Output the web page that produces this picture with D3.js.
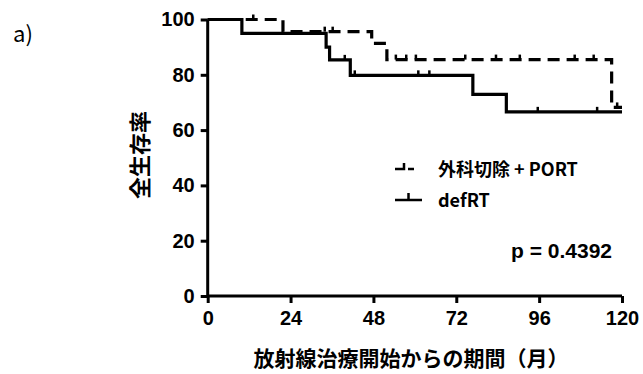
<!DOCTYPE html>
<html>
<head>
<meta charset="utf-8">
<script src="https://cdn.jsdelivr.net/npm/d3@7"></script>
<style>
  body { margin: 0; background: #fff; }
  svg { display: block; }
  .tick text { font-family: "Liberation Sans", Arial, sans-serif; font-weight: bold; font-size: 20px; }
</style>
</head>
<body>
<div id="container_km"></div>
<script>
// data
const xTicks = [0, 24, 48, 72, 96, 120];
const yTicks = [0, 20, 40, 60, 80, 100];

// 外科切除 + PORT (dashed)
const surgeryTimes = [0, 21.8, 47.5, 51.9, 117];
const surgerySurv = [100, 95.6, 91.4, 85.5, 68.2];
const surgeryEnd = 120;
const surgeryCensor = [13.2, 33.9, 36.2, 54.5, 57.5, 60.3, 74.6, 83.5, 90.4, 106.3, 111.8, 118.6];

// defRT (solid)
const defrtTimes = [0, 9.9, 34.3, 35.3, 41.3, 76.8, 86.5];
const defrtSurv = [100, 95, 90, 85.4, 79.8, 72.9, 66.6];
const defrtEnd = 120;
const defrtCensor = [39.7, 42.6, 61, 64.2, 95.6, 112.8];

const width = 643, height = 374;

const svg = d3.select('#container_km')
  .append('svg')
  .attr('id', 'svg_km')
  .attr('width', width)
  .attr('height', height);

const x = d3.scaleLinear().domain([0, 120]).range([207.7, 622]);
const y = d3.scaleLinear().domain([0, 100]).range([296, 19.5]);

// value at time t for a step curve
const survAt = (times, surv, t) => {
  let v = surv[0];
  times.forEach((tt, i) => { if (tt <= t) v = surv[i]; });
  return v;
};

const stepPoints = (times, surv, end) => {
  const pts = times.map((t, i) => [t, surv[i]]);
  pts.push([end, surv[surv.length - 1]]);
  return pts;
};

const line = d3.line()
  .x(d => x(d[0]))
  .y(d => y(d[1]))
  .curve(d3.curveStepAfter);

// axes
const xAxis = svg.append('g')
  .attr('transform', `translate(0,${y(0)})`)
  .call(d3.axisBottom(x).tickValues(xTicks).tickSize(7).tickPadding(8));

const yAxis = svg.append('g')
  .attr('transform', `translate(${x(0)},0)`)
  .call(d3.axisLeft(y).tickValues(yTicks).tickSize(7).tickPadding(6));

[xAxis, yAxis].forEach(g => {
  g.select('.domain').attr('stroke', '#000').attr('stroke-width', 3);
  g.selectAll('.tick line').attr('stroke', '#000').attr('stroke-width', 3);
  g.selectAll('.tick text').attr('fill', '#000');
});
xAxis.select('.domain').attr('d', `M${x(0)},0H${x(120)}`);
yAxis.select('.domain').attr('d', `M0,${y(0)}V${y(100)}`);

// curves
svg.append('path')
  .datum(stepPoints(defrtTimes, defrtSurv, defrtEnd))
  .attr('d', line)
  .attr('fill', 'none')
  .attr('stroke', '#000')
  .attr('stroke-width', 3.2);

svg.append('path')
  .datum(stepPoints(surgeryTimes, surgerySurv, surgeryEnd))
  .attr('d', line)
  .attr('fill', 'none')
  .attr('stroke', '#000')
  .attr('stroke-width', 3.2)
  .attr('stroke-dasharray', '12,7');

// censor ticks
const drawCensor = (times, surv, cens) => {
  svg.append('g')
    .selectAll('line')
    .data(cens)
    .join('line')
    .attr('x1', d => x(d))
    .attr('x2', d => x(d))
    .attr('y1', d => y(survAt(times, surv, d)))
    .attr('y2', d => y(survAt(times, surv, d)) - 5)
    .attr('stroke', '#000')
    .attr('stroke-width', 2.5);
};
drawCensor(defrtTimes, defrtSurv, defrtCensor);
drawCensor(surgeryTimes, surgerySurv, surgeryCensor);

// legend
const lg = svg.append('g');
lg.append('path')
  .attr('d', 'M395,169H404V163M408,169H414')
  .attr('fill', 'none').attr('stroke', '#000').attr('stroke-width', 2.5);
lg.append('path')
  .attr('d', 'M395,200H422M408.5,200V193')
  .attr('fill', 'none').attr('stroke', '#000').attr('stroke-width', 2.5);
lg.append('text')
  .attr('x', 438).attr('y', 176)
  .style('font-family', '"Noto Sans CJK JP", sans-serif')
  .style('font-weight', 'bold').style('font-size', '18px')
  .text('外科切除 + PORT');
lg.append('text')
  .attr('x', 438).attr('y', 207)
  .style('font-family', '"Noto Sans CJK JP", sans-serif')
  .style('font-weight', 'bold').style('font-size', '18px')
  .text('defRT');

svg.append('text')
  .attr('x', 612).attr('y', 258)
  .attr('text-anchor', 'end')
  .style('font-family', '"Liberation Sans", Arial, sans-serif')
  .style('font-weight', 'bold').style('font-size', '21px')
  .text('p = 0.4392');

// axis titles
svg.append('text')
  .attr('transform', 'translate(148,155) rotate(-90)')
  .attr('text-anchor', 'middle')
  .style('font-family', '"Noto Sans CJK JP", sans-serif')
  .style('font-weight', 'bold').style('font-size', '22px')
  .text('全生存率');

svg.append('text')
  .attr('x', 411).attr('y', 366)
  .attr('text-anchor', 'middle')
  .style('font-family', '"Noto Sans CJK JP", sans-serif')
  .style('font-weight', 'bold').style('font-size', '21px')
  .text('放射線治療開始からの期間（月）');

svg.append('text')
  .attr('x', 13).attr('y', 42)
  .style('font-family', '"Noto Sans CJK JP", sans-serif')
  .style('font-size', '22px')
  .text('a)');
</script>
</body>
</html>
